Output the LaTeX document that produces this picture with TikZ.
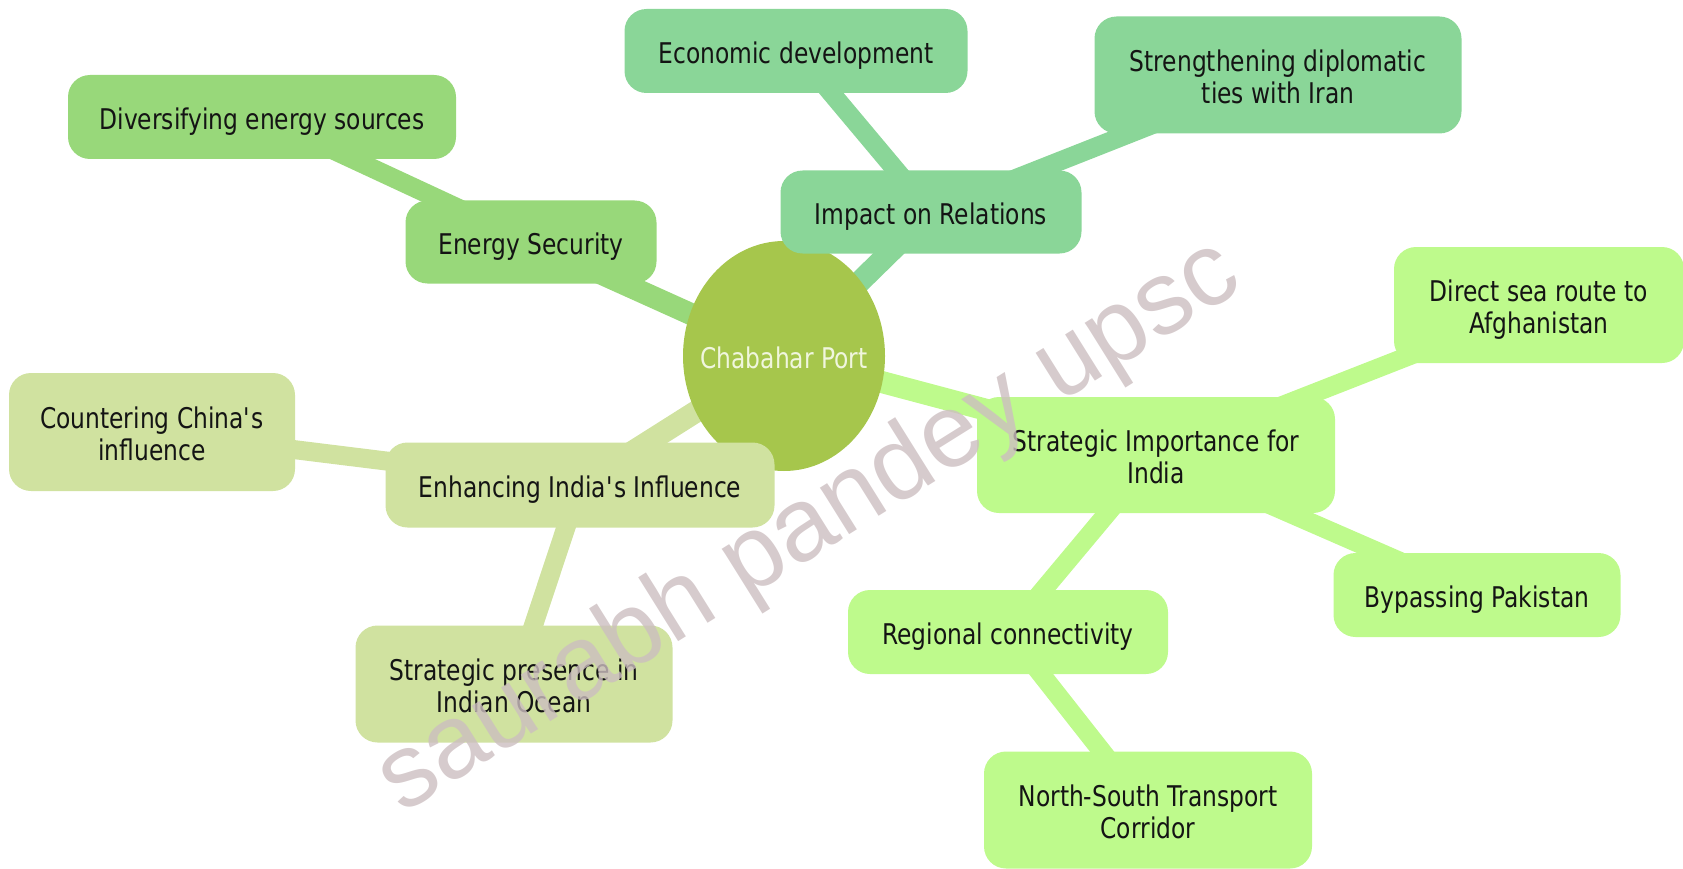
\documentclass[tikz,border=0pt]{standalone}
\usepackage{fontspec}
\setmainfont{DejaVu Sans}[FakeStretch=0.82]
\newfontfamily\wmfont{Liberation Sans}
\usetikzlibrary{backgrounds,shapes.geometric}
\definecolor{cEnergy}{RGB}{152,216,122}
\definecolor{cImpact}{RGB}{138,214,152}
\definecolor{cStrat}{RGB}{190,250,140}
\definecolor{cEnh}{RGB}{208,226,160}
\definecolor{cCenter}{RGB}{166,198,76}
\definecolor{cWm}{RGB}{204,190,192}
\definecolor{cText}{RGB}{20,20,20}
\newcommand{\lbl}[1]{\raisebox{-6pt}[\height][\depth]{\begin{tabular}{@{}c@{}}#1\end{tabular}}}
\newcommand{\apos}{\textquotesingle}
\begin{document}
\begin{tikzpicture}[x=1pt,y=-1pt,
  box/.style={rectangle, rounded corners=22pt, inner sep=0pt,
    font=\fontsize{28.5}{32}\selectfont, text=cText},
  mainlink/.style={line width=22pt},
  sublink/.style={line width=19pt},
]
\useasboundingbox (0,0) rectangle (1683,869);
% centre
\node[ellipse, fill=cCenter, minimum width=202pt, minimum height=230pt, inner sep=0pt,
  font=\fontsize{28.5}{32}\selectfont, text={rgb,255:red,240;green,246;blue,222}] (root) at (784,356) {\makebox[0pt]{\lbl{Chabahar Port}}};
% energy branch
\node[box, fill=cEnergy, minimum width=251pt, minimum height=83pt] (energy) at (531,242) {\lbl{Energy Security}};
\node[box, fill=cEnergy, minimum width=388pt, minimum height=84pt] (divers) at (262,117) {\lbl{Diversifying energy sources}};
% impact branch
\node[box, fill=cImpact, minimum width=301pt, minimum height=83pt] (impact) at (931,212) {\lbl{Impact on Relations}};
\node[box, fill=cImpact, minimum width=343pt, minimum height=84pt] (econ) at (796,51) {\lbl{Economic development}};
\node[box, fill=cImpact, minimum width=367pt, minimum height=117pt] (streng) at (1278,75) {\lbl{Strengthening diplomatic\\ties with Iran}};
% strategic branch
\node[box, fill=cStrat, minimum width=358pt, minimum height=116pt] (strat) at (1156,455) {\lbl{Strategic Importance for\\India}};
\node[box, fill=cStrat, minimum width=290pt, minimum height=116pt] (direct) at (1539,305) {\lbl{Direct sea route to\\Afghanistan}};
\node[box, fill=cStrat, minimum width=287pt, minimum height=84pt] (bypass) at (1477,595) {\lbl{Bypassing Pakistan}};
\node[box, fill=cStrat, minimum width=320pt, minimum height=84pt] (regional) at (1008,632) {\lbl{Regional connectivity}};
\node[box, fill=cStrat, minimum width=328pt, minimum height=117pt] (nstc) at (1148,810) {\lbl{North-South Transport\\Corridor}};
% enhancing branch
\node[box, fill=cEnh, minimum width=389pt, minimum height=85pt] (enh) at (580,485) {\lbl{Enhancing India\apos s Influence}};
\node[box, fill=cEnh, minimum width=286pt, minimum height=118pt] (china) at (152,432) {\lbl{Countering China\apos s\\influence}};
\node[box, fill=cEnh, minimum width=317pt, minimum height=117pt] (ocean) at (514,684) {\lbl{Strategic presence in\\Indian Ocean}};
% connectors
\begin{scope}[on background layer]
\draw[mainlink, cEnergy] (root.center) -- (energy.center);
\draw[sublink, cEnergy] (energy.center) -- (divers.center);
\draw[mainlink, cImpact] (root.center) -- (impact.center);
\draw[sublink, cImpact] (impact.center) -- (econ.center);
\draw[sublink, cImpact] (impact.center) -- (streng.center);
\draw[mainlink, cStrat] (root.center) -- (strat.center);
\draw[sublink, cStrat] (strat.center) -- (direct.center);
\draw[sublink, cStrat] (strat.center) -- (bypass.center);
\draw[sublink, cStrat] (strat.center) -- (regional.center);
\draw[sublink, cStrat] (regional.center) -- (nstc.center);
\draw[mainlink, cEnh] (root.center) -- (enh.center);
\draw[sublink, cEnh] (enh.center) -- (china.center);
\draw[sublink, cEnh] (enh.center) -- (ocean.center);
\end{scope}
% watermark
\node[rotate=32, text=cWm, text opacity=0.8, inner sep=0pt,
  font=\wmfont\fontsize{104}{104}\selectfont] (wm) at (810,528) {saurabh pandey upsc};
\end{tikzpicture}
\end{document}
